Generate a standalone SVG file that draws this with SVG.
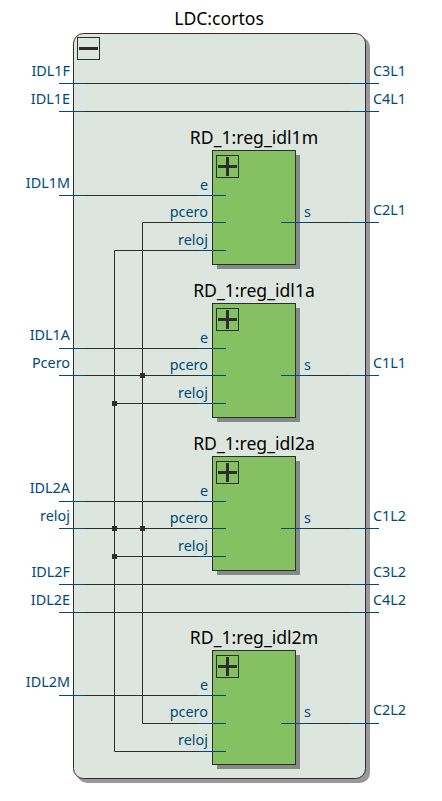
<svg xmlns="http://www.w3.org/2000/svg" width="442" height="801" viewBox="0 0 442 801">
<style>
text{font-family:"Noto Sans","Open Sans",sans-serif;font-size:14.400px;fill:#004a75}
.t{font-size:17.600px;fill:#000;text-anchor:middle}
.e{text-anchor:end}
.w{fill:none;stroke:#2d2d2d;stroke-width:1}
.b{fill:none;stroke:#004a75;stroke-width:1}
.j{fill:#2d2d2d}
.box{fill:#85c163;stroke:#2d2d2d;stroke-width:1}
.sh{fill:#000;fill-opacity:.4}
.btn{fill:none;stroke:#2d2d2d;stroke-width:1}
.g{fill:none;stroke:#2d2d2d;stroke-width:3}
</style>
<g id="LDC_cortos">
<text class="t" x="219" y="25">LDC:cortos</text>
<rect class="sh" x="77" y="37" width="293" height="746" rx="10"/>
<rect x="73.500" y="33.500" width="292" height="745" rx="10" fill="#dde6de" stroke="#2d2d2d"/>
<rect class="btn" x="77.500" y="37.500" width="22" height="22"/>
<path class="g" d="M79 48.500H98"/>
</g>
<g id="connectors">
<path class="w" d="M59 83.500H379M59 111.500H379M59 195.500H226M142.500 222.500H226M114.500 250.500H226M281 222.500H379M59 348.500H226M59 375.500H226M114.500 403.500H226M281 375.500H379M59 501.500H226M59 528.500H226M114.500 556.500H226M281 528.500H379M59 584.500H379M59 612.500H379M59 695.500H226M142.500 723.500H226M114.500 751.500H226M281 723.500H379M114.500 250.500V751.500M142.500 222.500V723.500"/>
</g>
<g id="reg_idl1m">
<text class="t" x="254" y="144">RD_1:reg_idl1m</text>
<rect class="sh" x="217" y="155" width="83" height="114"/>
<rect class="box" x="212.500" y="150.500" width="83" height="114"/>
<rect class="btn" x="216.500" y="155.500" width="22" height="22"/>
<path class="g" d="M218 166.500H237M227.500 157V176"/>
<text class="e" x="208" y="190">e</text><text class="e" x="208" y="217">pcero</text><text class="e" x="208" y="245">reloj</text><text x="304" y="217">s</text>
</g>
<g id="reg_idl1a">
<text class="t" x="254" y="297">RD_1:reg_idl1a</text>
<rect class="sh" x="217" y="308" width="83" height="114"/>
<rect class="box" x="212.500" y="303.500" width="83" height="114"/>
<rect class="btn" x="216.500" y="308.500" width="22" height="22"/>
<path class="g" d="M218 319.500H237M227.500 310V329"/>
<text class="e" x="208" y="343">e</text><text class="e" x="208" y="370">pcero</text><text class="e" x="208" y="398">reloj</text><text x="304" y="370">s</text>
</g>
<g id="reg_idl2a">
<text class="t" x="254" y="450">RD_1:reg_idl2a</text>
<rect class="sh" x="217" y="461" width="83" height="114"/>
<rect class="box" x="212.500" y="456.500" width="83" height="114"/>
<rect class="btn" x="216.500" y="461.500" width="22" height="22"/>
<path class="g" d="M218 472.500H237M227.500 463V482"/>
<text class="e" x="208" y="496">e</text><text class="e" x="208" y="523">pcero</text><text class="e" x="208" y="551">reloj</text><text x="304" y="523">s</text>
</g>
<g id="reg_idl2m">
<text class="t" x="254" y="644">RD_1:reg_idl2m</text>
<rect class="sh" x="217" y="655" width="83" height="114"/>
<rect class="box" x="212.500" y="650.500" width="83" height="114"/>
<rect class="btn" x="216.500" y="655.500" width="22" height="22"/>
<path class="g" d="M218 666.500H237M227.500 657V676"/>
<text class="e" x="208" y="690">e</text><text class="e" x="208" y="717">pcero</text><text class="e" x="208" y="745">reloj</text><text x="304" y="717">s</text>
</g>
<g id="port_stubs">
<path class="b" d="M59 83.500H85M351 83.500H379M59 111.500H85M351 111.500H379M59 195.500H85M199 195.500H226M199 222.500H226M199 250.500H226M281 222.500H308M351 222.500H379M59 348.500H85M199 348.500H226M59 375.500H85M199 375.500H226M199 403.500H226M281 375.500H308M351 375.500H379M59 501.500H85M199 501.500H226M59 528.500H85M199 528.500H226M199 556.500H226M281 528.500H308M351 528.500H379M59 584.500H85M351 584.500H379M59 612.500H85M351 612.500H379M59 695.500H85M199 695.500H226M199 723.500H226M199 751.500H226M281 723.500H308M351 723.500H379"/>
<rect class="j" x="140" y="373" width="5" height="5"/>
<rect class="j" x="112" y="401" width="5" height="5"/>
<rect class="j" x="112" y="526" width="5" height="5"/>
<rect class="j" x="140" y="526" width="5" height="5"/>
<rect class="j" x="112" y="554" width="5" height="5"/>
</g>
<g id="ports">
<text class="e" x="70" y="76">IDL1F</text><text class="e" x="70" y="104">IDL1E</text><text class="e" x="70" y="188">IDL1M</text><text class="e" x="70" y="340">IDL1A</text><text class="e" x="70" y="368">Pcero</text><text class="e" x="70" y="493">IDL2A</text><text class="e" x="70" y="521">reloj</text><text class="e" x="70" y="577">IDL2F</text><text class="e" x="70" y="605">IDL2E</text><text class="e" x="70" y="687">IDL2M</text>
<text x="373" y="76">C3L1</text><text x="373" y="104">C4L1</text><text x="373" y="215">C2L1</text><text x="373" y="368">C1L1</text><text x="373" y="521">C1L2</text><text x="373" y="577">C3L2</text><text x="373" y="605">C4L2</text><text x="373" y="715">C2L2</text>
</g>
</svg>
